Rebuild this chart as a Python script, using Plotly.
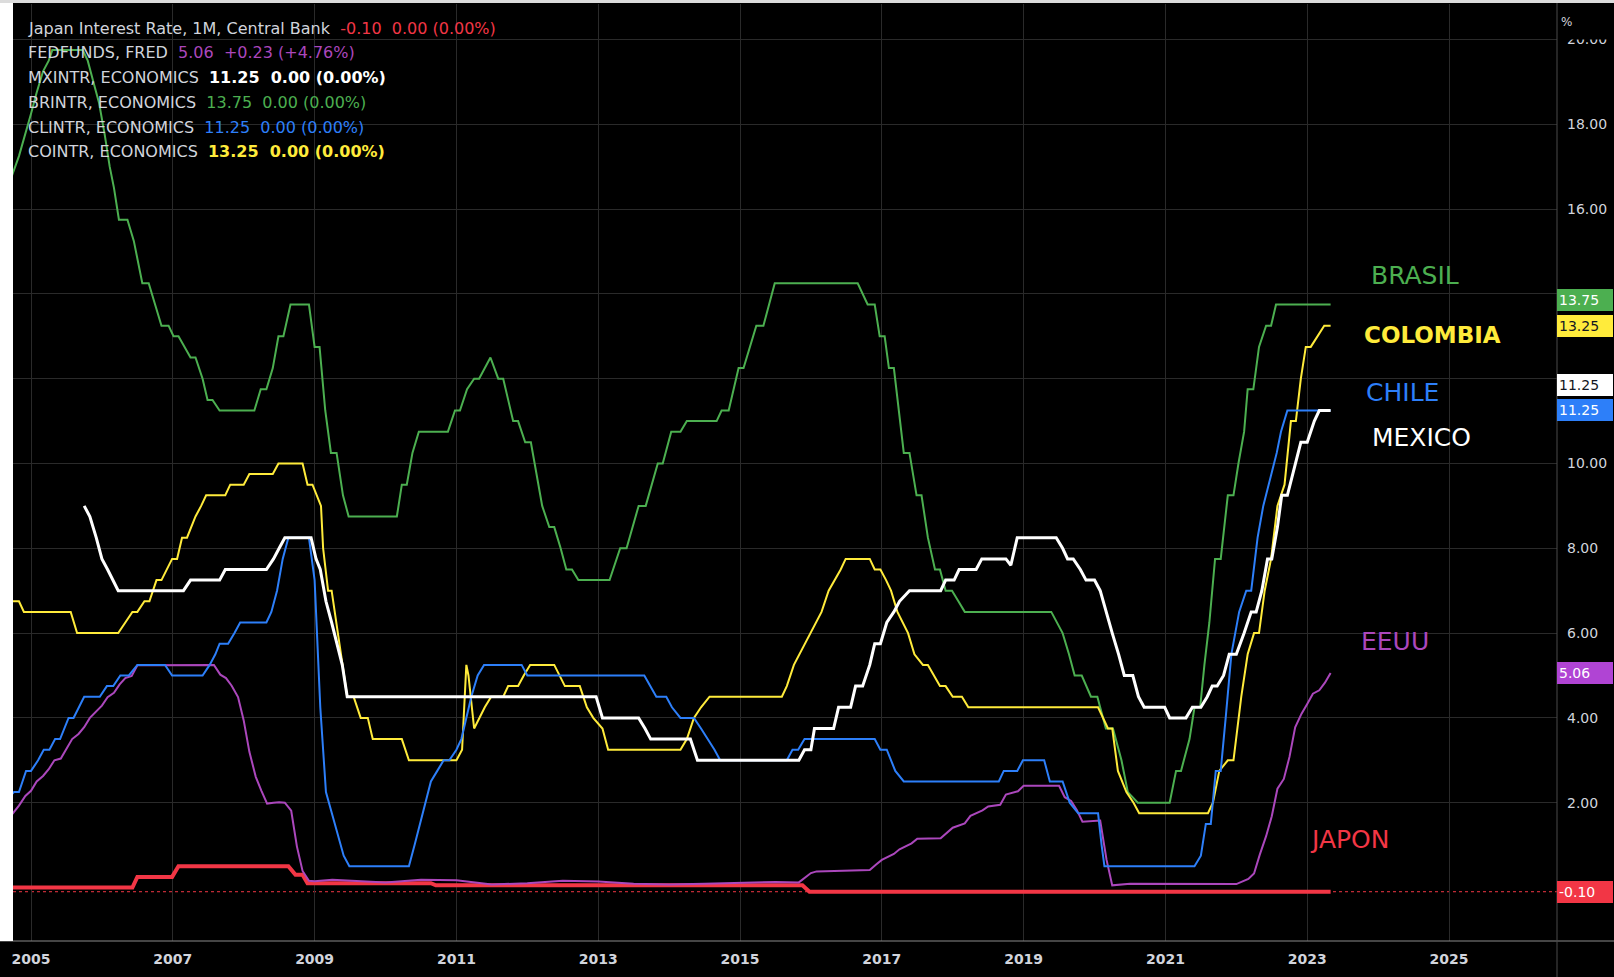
import plotly.graph_objects as go

# ---------------- data: (decimal year, rate %) ----------------
JAPAN = [(2004.60, 0.0), (2006.43, 0.0), (2006.50, 0.25), (2006.99, 0.25), (2007.08, 0.5),
         (2008.63, 0.5), (2008.73, 0.3), (2008.83, 0.3), (2008.90, 0.1), (2010.64, 0.1),
         (2010.71, 0.05), (2015.88, 0.05), (2015.98, -0.1), (2023.33, -0.1)]

FEDFUNDS = [(2004.60, 1.45), (2004.67, 1.61), (2004.75, 1.76), (2004.83, 1.93), (2004.92, 2.16),
            (2005.00, 2.28), (2005.08, 2.50), (2005.17, 2.63), (2005.25, 2.79), (2005.33, 3.00),
            (2005.42, 3.04), (2005.50, 3.26), (2005.58, 3.50), (2005.67, 3.62), (2005.75, 3.78),
            (2005.83, 4.00), (2005.92, 4.16), (2006.00, 4.29), (2006.08, 4.49), (2006.17, 4.59),
            (2006.25, 4.79), (2006.33, 4.94), (2006.42, 4.99), (2006.50, 5.24), (2007.58, 5.25),
            (2007.67, 5.02), (2007.75, 4.94), (2007.83, 4.76), (2007.92, 4.49), (2008.00, 3.94),
            (2008.08, 3.20), (2008.17, 2.61), (2008.25, 2.28), (2008.33, 1.98), (2008.42, 2.00),
            (2008.50, 2.01), (2008.58, 2.00), (2008.67, 1.81), (2008.75, 0.97), (2008.83, 0.39),
            (2008.92, 0.16), (2009.00, 0.15), (2009.25, 0.18), (2009.50, 0.16), (2010.00, 0.12),
            (2010.50, 0.18), (2011.00, 0.17), (2011.50, 0.07), (2012.00, 0.10), (2012.50, 0.16),
            (2013.00, 0.14), (2013.50, 0.09), (2014.00, 0.07), (2014.50, 0.09), (2015.00, 0.11),
            (2015.50, 0.13), (2015.83, 0.12), (2015.92, 0.24), (2016.00, 0.34), (2016.08, 0.38),
            (2016.50, 0.39), (2016.83, 0.41), (2016.92, 0.54), (2017.00, 0.65), (2017.17, 0.79),
            (2017.25, 0.90), (2017.42, 1.04), (2017.50, 1.15), (2017.83, 1.16), (2017.92, 1.30),
            (2018.00, 1.41), (2018.17, 1.51), (2018.25, 1.69), (2018.42, 1.82), (2018.50, 1.91),
            (2018.67, 1.95), (2018.75, 2.19), (2018.92, 2.27), (2019.00, 2.40), (2019.50, 2.40),
            (2019.58, 2.13), (2019.67, 2.04), (2019.75, 1.83), (2019.83, 1.55), (2020.08, 1.58),
            (2020.17, 0.65), (2020.25, 0.05), (2020.50, 0.09), (2021.00, 0.09), (2021.50, 0.08),
            (2022.00, 0.08), (2022.17, 0.20), (2022.25, 0.33), (2022.33, 0.77), (2022.42, 1.21),
            (2022.50, 1.68), (2022.58, 2.33), (2022.67, 2.56), (2022.75, 3.08), (2022.83, 3.78),
            (2022.92, 4.10), (2023.00, 4.33), (2023.08, 4.57), (2023.17, 4.65), (2023.25, 4.83),
            (2023.33, 5.06)]

BRASIL = [(2004.58, 16.25), (2004.67, 16.5), (2004.83, 17.25), (2004.92, 17.75), (2005.00, 18.25),
          (2005.08, 18.75), (2005.17, 19.25), (2005.25, 19.5), (2005.30, 19.75), (2005.73, 19.75),
          (2005.80, 19.5), (2005.88, 19.0), (2005.96, 18.5), (2006.04, 17.75), (2006.11, 17.0),
          (2006.17, 16.5), (2006.24, 15.75), (2006.36, 15.75), (2006.45, 15.25), (2006.57, 14.25),
          (2006.66, 14.25), (2006.75, 13.75), (2006.84, 13.25), (2006.94, 13.25), (2007.01, 13.0),
          (2007.08, 13.0), (2007.17, 12.75), (2007.25, 12.5), (2007.32, 12.5), (2007.42, 12.0),
          (2007.49, 11.5), (2007.56, 11.5), (2007.66, 11.25), (2008.15, 11.25), (2008.24, 11.75),
          (2008.32, 11.75), (2008.41, 12.25), (2008.49, 13.0), (2008.56, 13.0), (2008.66, 13.75),
          (2008.92, 13.75), (2009.00, 12.75), (2009.07, 12.75), (2009.15, 11.25), (2009.23, 10.25),
          (2009.31, 10.25), (2009.40, 9.25), (2009.48, 8.75), (2010.16, 8.75), (2010.23, 9.5),
          (2010.30, 9.5), (2010.38, 10.25), (2010.47, 10.75), (2010.88, 10.75), (2010.98, 11.25),
          (2011.05, 11.25), (2011.15, 11.75), (2011.25, 12.0), (2011.32, 12.0), (2011.40, 12.25),
          (2011.48, 12.5), (2011.59, 12.0), (2011.66, 12.0), (2011.73, 11.5), (2011.80, 11.0),
          (2011.87, 11.0), (2011.97, 10.5), (2012.05, 10.5), (2012.13, 9.75), (2012.21, 9.0),
          (2012.31, 8.5), (2012.38, 8.5), (2012.47, 8.0), (2012.55, 7.5), (2012.63, 7.5),
          (2012.72, 7.25), (2013.16, 7.25), (2013.26, 7.75), (2013.31, 8.0), (2013.40, 8.0),
          (2013.49, 8.5), (2013.57, 9.0), (2013.67, 9.0), (2013.76, 9.5), (2013.84, 10.0),
          (2013.91, 10.0), (2014.03, 10.75), (2014.16, 10.75), (2014.25, 11.0), (2014.67, 11.0),
          (2014.74, 11.25), (2014.84, 11.25), (2014.91, 11.75), (2014.98, 12.25), (2015.05, 12.25),
          (2015.14, 12.75), (2015.23, 13.25), (2015.33, 13.25), (2015.41, 13.75), (2015.49, 14.25),
          (2016.66, 14.25), (2016.73, 14.0), (2016.80, 13.75), (2016.90, 13.75), (2016.97, 13.0),
          (2017.04, 13.0), (2017.10, 12.25), (2017.17, 12.25), (2017.24, 11.25), (2017.31, 10.25),
          (2017.39, 10.25), (2017.49, 9.25), (2017.56, 9.25), (2017.65, 8.25), (2017.75, 7.5),
          (2017.82, 7.5), (2017.90, 7.0), (2017.99, 7.0), (2018.08, 6.75), (2018.17, 6.5),
          (2019.39, 6.5), (2019.55, 6.0), (2019.64, 5.5), (2019.72, 5.0), (2019.82, 5.0),
          (2019.95, 4.5), (2020.04, 4.5), (2020.16, 3.75), (2020.26, 3.75), (2020.38, 3.0),
          (2020.47, 2.25), (2020.61, 2.0), (2021.06, 2.0), (2021.15, 2.75), (2021.22, 2.75),
          (2021.34, 3.5), (2021.41, 4.25), (2021.49, 4.25), (2021.55, 5.25), (2021.62, 6.25),
          (2021.70, 7.75), (2021.78, 7.75), (2021.88, 9.25), (2021.96, 9.25), (2022.03, 10.0),
          (2022.11, 10.75), (2022.16, 11.75), (2022.24, 11.75), (2022.32, 12.75), (2022.42, 13.25),
          (2022.49, 13.25), (2022.56, 13.75), (2023.33, 13.75)]

COLOMBIA = [(2004.60, 6.75), (2004.83, 6.75), (2004.90, 6.5), (2005.56, 6.5), (2005.65, 6.0),
            (2006.23, 6.0), (2006.33, 6.25), (2006.43, 6.5), (2006.50, 6.5), (2006.60, 6.75),
            (2006.67, 6.75), (2006.77, 7.25), (2006.84, 7.25), (2006.92, 7.5), (2006.99, 7.75),
            (2007.06, 7.75), (2007.13, 8.25), (2007.20, 8.25), (2007.32, 8.75), (2007.40, 9.0),
            (2007.47, 9.25), (2007.74, 9.25), (2007.81, 9.5), (2008.00, 9.5), (2008.08, 9.75),
            (2008.41, 9.75), (2008.49, 10.0), (2008.83, 10.0), (2008.90, 9.5), (2008.97, 9.5),
            (2009.09, 9.0), (2009.12, 8.0), (2009.19, 7.0), (2009.24, 7.0), (2009.33, 6.0),
            (2009.41, 5.0), (2009.46, 4.5), (2009.55, 4.5), (2009.65, 4.0), (2009.75, 4.0),
            (2009.82, 3.5), (2010.23, 3.5), (2010.33, 3.0), (2011.00, 3.0), (2011.08, 3.25),
            (2011.14, 5.25), (2011.17, 5.0), (2011.25, 3.75), (2011.32, 4.0), (2011.40, 4.25),
            (2011.49, 4.5), (2011.66, 4.5), (2011.73, 4.75), (2011.87, 4.75), (2011.95, 5.0),
            (2012.04, 5.25), (2012.38, 5.25), (2012.53, 4.75), (2012.74, 4.75), (2012.84, 4.25),
            (2012.93, 4.0), (2013.06, 3.75), (2013.14, 3.25), (2014.16, 3.25), (2014.25, 3.5),
            (2014.35, 4.0), (2014.45, 4.25), (2014.57, 4.5), (2015.59, 4.5), (2015.66, 4.75),
            (2015.76, 5.25), (2015.84, 5.5), (2015.92, 5.75), (2016.00, 6.0), (2016.07, 6.25),
            (2016.15, 6.5), (2016.25, 7.0), (2016.34, 7.25), (2016.42, 7.5), (2016.49, 7.75),
            (2016.83, 7.75), (2016.90, 7.5), (2016.98, 7.5), (2017.06, 7.25), (2017.13, 7.0),
            (2017.22, 6.5), (2017.30, 6.25), (2017.37, 6.0), (2017.46, 5.5), (2017.58, 5.25),
            (2017.65, 5.25), (2017.73, 5.0), (2017.82, 4.75), (2017.90, 4.75), (2018.00, 4.5),
            (2018.13, 4.5), (2018.22, 4.25), (2020.05, 4.25), (2020.19, 3.75), (2020.25, 3.75),
            (2020.33, 2.75), (2020.45, 2.25), (2020.55, 2.0), (2020.63, 1.75), (2021.60, 1.75),
            (2021.67, 2.0), (2021.76, 2.75), (2021.88, 3.0), (2021.96, 3.0), (2022.07, 4.5),
            (2022.16, 5.5), (2022.25, 6.0), (2022.32, 6.0), (2022.40, 7.0), (2022.49, 7.75),
            (2022.58, 9.0), (2022.68, 9.5), (2022.77, 11.0), (2022.84, 11.0), (2022.91, 12.0),
            (2022.98, 12.75), (2023.05, 12.75), (2023.15, 13.0), (2023.24, 13.25), (2023.33, 13.25)]

CHILE = [(2004.60, 2.0), (2004.76, 2.25), (2004.83, 2.25), (2004.93, 2.75), (2005.00, 2.75),
         (2005.10, 3.0), (2005.18, 3.25), (2005.26, 3.25), (2005.34, 3.5), (2005.41, 3.5),
         (2005.53, 4.0), (2005.60, 4.0), (2005.75, 4.5), (2005.97, 4.5), (2006.07, 4.75),
         (2006.16, 4.75), (2006.26, 5.0), (2006.38, 5.0), (2006.50, 5.25), (2006.89, 5.25),
         (2006.99, 5.0), (2007.42, 5.0), (2007.52, 5.25), (2007.60, 5.5), (2007.66, 5.75),
         (2007.78, 5.75), (2007.87, 6.0), (2007.95, 6.25), (2008.32, 6.25), (2008.39, 6.5),
         (2008.47, 7.0), (2008.55, 7.75), (2008.63, 8.25), (2008.92, 8.25), (2009.00, 7.25),
         (2009.08, 4.25), (2009.16, 2.25), (2009.24, 1.75), (2009.33, 1.25), (2009.41, 0.75),
         (2009.49, 0.5), (2010.33, 0.5), (2010.41, 1.0), (2010.49, 1.5), (2010.57, 2.0),
         (2010.64, 2.5), (2010.73, 2.75), (2010.82, 3.0), (2010.90, 3.0), (2011.00, 3.25),
         (2011.07, 3.5), (2011.14, 4.0), (2011.21, 4.5), (2011.30, 5.0), (2011.39, 5.25),
         (2011.92, 5.25), (2012.00, 5.0), (2013.65, 5.0), (2013.74, 4.75), (2013.82, 4.5),
         (2013.96, 4.5), (2014.04, 4.25), (2014.16, 4.0), (2014.35, 4.0), (2014.45, 3.75),
         (2014.55, 3.5), (2014.64, 3.25), (2014.72, 3.0), (2015.66, 3.0), (2015.74, 3.25),
         (2015.82, 3.25), (2015.91, 3.5), (2016.90, 3.5), (2016.98, 3.25), (2017.07, 3.25),
         (2017.19, 2.75), (2017.31, 2.5), (2018.65, 2.5), (2018.72, 2.75), (2018.91, 2.75),
         (2018.99, 3.0), (2019.29, 3.0), (2019.37, 2.5), (2019.55, 2.5), (2019.65, 2.0),
         (2019.77, 1.75), (2020.05, 1.75), (2020.10, 1.0), (2020.14, 0.5), (2021.41, 0.5),
         (2021.50, 0.75), (2021.57, 1.5), (2021.64, 1.5), (2021.71, 2.75), (2021.78, 2.75),
         (2021.85, 4.0), (2021.93, 5.5), (2022.04, 6.5), (2022.14, 7.0), (2022.21, 7.0),
         (2022.30, 8.25), (2022.38, 9.0), (2022.49, 9.75), (2022.57, 10.25), (2022.63, 10.75),
         (2022.72, 11.25), (2023.33, 11.25)]

MEXICO = [(2005.75, 9.0), (2005.83, 8.75), (2005.92, 8.25), (2006.00, 7.75), (2006.08, 7.5),
          (2006.16, 7.25), (2006.23, 7.0), (2007.15, 7.0), (2007.25, 7.25), (2007.66, 7.25),
          (2007.74, 7.5), (2008.32, 7.5), (2008.42, 7.75), (2008.50, 8.0), (2008.58, 8.25),
          (2008.95, 8.25), (2009.02, 7.75), (2009.08, 7.5), (2009.16, 6.75), (2009.24, 6.25),
          (2009.32, 5.75), (2009.39, 5.25), (2009.46, 4.5), (2012.97, 4.5), (2013.06, 4.0),
          (2013.57, 4.0), (2013.66, 3.75), (2013.74, 3.5), (2014.30, 3.5), (2014.40, 3.0),
          (2015.83, 3.0), (2015.91, 3.25), (2016.00, 3.25), (2016.05, 3.75), (2016.32, 3.75),
          (2016.39, 4.25), (2016.56, 4.25), (2016.63, 4.75), (2016.73, 4.75), (2016.83, 5.25),
          (2016.90, 5.75), (2016.98, 5.75), (2017.07, 6.25), (2017.17, 6.5), (2017.25, 6.75),
          (2017.39, 7.0), (2017.83, 7.0), (2017.90, 7.25), (2018.02, 7.25), (2018.09, 7.5),
          (2018.33, 7.5), (2018.41, 7.75), (2018.75, 7.75), (2018.82, 7.6), (2018.91, 8.25),
          (2019.46, 8.25), (2019.55, 8.0), (2019.62, 7.75), (2019.70, 7.75), (2019.80, 7.5),
          (2019.88, 7.25), (2020.00, 7.25), (2020.08, 7.0), (2020.16, 6.5), (2020.25, 6.0),
          (2020.34, 5.5), (2020.42, 5.0), (2020.54, 5.0), (2020.62, 4.5), (2020.70, 4.25),
          (2020.99, 4.25), (2021.06, 4.0), (2021.29, 4.0), (2021.38, 4.25), (2021.50, 4.25),
          (2021.59, 4.5), (2021.66, 4.75), (2021.73, 4.75), (2021.82, 5.0), (2021.90, 5.5),
          (2022.00, 5.5), (2022.11, 6.0), (2022.21, 6.5), (2022.28, 6.5), (2022.36, 7.0),
          (2022.44, 7.75), (2022.50, 7.75), (2022.58, 8.5), (2022.64, 9.25), (2022.72, 9.25),
          (2022.84, 10.0), (2022.91, 10.5), (2023.00, 10.5), (2023.10, 11.0), (2023.17, 11.25),
          (2023.33, 11.25)]

YEAR_TICKS = [2005, 2007, 2009, 2011, 2013, 2015, 2017, 2019, 2021, 2023, 2025]
RATE_TICKS = [2, 4, 6, 8, 10, 12, 14, 16, 18, 20]

LEGEND_ROWS = [
    ("Japan Interest Rate, 1M, Central Bank", "-0.10\u00a0\u00a00.00 (0.00%)", "#f23645", False),
    ("FEDFUNDS, FRED", "5.06\u00a0\u00a0+0.23 (+4.76%)", "#ab47bc", False),
    ("MXINTR, ECONOMICS", "11.25\u00a0\u00a00.00 (0.00%)", "#ffffff", True),
    ("BRINTR, ECONOMICS", "13.75\u00a0\u00a00.00 (0.00%)", "#4caf50", False),
    ("CLINTR, ECONOMICS", "11.25\u00a0\u00a00.00 (0.00%)", "#2d7ff9", False),
    ("COINTR, ECONOMICS", "13.25\u00a0\u00a00.00 (0.00%)", "#ffeb3b", True),
]

# ---------------- styling ----------------
W, H = 1614, 977
ML, MR, MT, MB = 13, 57, 4, 36
PW, PH = W - ML - MR, H - MT - MB
X_RANGE = [2004.746, 2026.523]
Y_RANGE = [-1.262, 20.837]
FONT = "DejaVu Sans"
TXT = "#d1d4dc"

C_RED, C_PUR, C_WHT, C_GRN, C_BLU, C_YEL = "#f23645", "#ab47bc", "#ffffff", "#4caf50", "#2d7ff9", "#ffeb3b"


def px(x, y):
    """pixel in the page -> paper coordinates"""
    return (x - ML) / PW, (H - MB - y) / PH


fig = go.Figure()
series = [
    ("Japan", JAPAN, C_RED, 4),
    ("FEDFUNDS", FEDFUNDS, C_PUR, 2),
    ("Brasil", BRASIL, C_GRN, 2),
    ("Colombia", COLOMBIA, C_YEL, 2),
    ("Chile", CHILE, C_BLU, 2),
    ("Mexico", MEXICO, C_WHT, 3),
]
for name, pts, col, w in series:
    fig.add_trace(go.Scatter(x=[p[0] for p in pts], y=[p[1] for p in pts], mode="lines",
                             name=name, line=dict(color=col, width=w), hoverinfo="skip",
                             showlegend=False))

shapes = []
shapes.append(dict(type="line", xref="paper", yref="y", x0=0, x1=1, y0=-0.1, y1=-0.1,
                   line=dict(color=C_RED, width=1, dash="dot"), layer="below"))
x0p, _ = px(0, 0)
x1p, _ = px(W, 0)
_, ytop = px(0, 0)
_, ybot = px(0, H)
shapes.append(dict(type="line", xref="paper", yref="paper", x0=x0p, x1=x1p, y0=0, y1=0,
                   line=dict(color="#8a8a8a", width=1)))
shapes.append(dict(type="line", xref="paper", yref="paper", x0=1, x1=1, y0=ybot, y1=ytop,
                   line=dict(color="#4a4a4a", width=1)))
shapes.append(dict(type="rect", xref="paper", yref="paper", x0=x0p, x1=0, y0=0, y1=ytop,
                   fillcolor="#ffffff", line=dict(width=0)))
_, y3 = px(0, 3)
shapes.append(dict(type="rect", xref="paper", yref="paper", x0=x0p, x1=x1p, y0=y3, y1=ytop,
                   fillcolor="#dcdcdc", line=dict(width=0)))

ann = []
for i, (name, vals, col, bold) in enumerate(LEGEND_ROWS):
    xp, yp = px(26, 28 + 24.8 * i)
    v = f"<b>{vals}</b>" if bold else vals
    ann.append(dict(xref="paper", yref="paper", x=xp, y=yp, xanchor="left", yanchor="middle",
                    showarrow=False, text=f"{name}\u00a0\u00a0<span style='color:{col}'>{v}</span>",
                    font=dict(family=FONT, size=16, color=TXT)))

labels = [("BRASIL", 1415, 275, C_GRN, False), ("COLOMBIA", 1432, 335, C_YEL, True),
          ("CHILE", 1402, 393, C_BLU, False), ("MEXICO", 1421, 437, C_WHT, False),
          ("EEUU", 1395, 641, C_PUR, False), ("JAPON", 1350, 839, C_RED, False)]
for t, lx, ly, col, bold in labels:
    xp, yp = px(lx, ly)
    ann.append(dict(xref="paper", yref="paper", x=xp, y=yp, xanchor="center", yanchor="middle",
                    showarrow=False, text=f"<b>{t}</b>" if bold else t,
                    font=dict(family=FONT, size=23 if bold else 25, color=col)))

# unit label hiding the upper half of the top tick label
xp, yp = px(1557, 22)
ann.append(dict(xref="paper", yref="paper", x=1, y=yp, xanchor="left", yanchor="middle",
                showarrow=False, text="%", bgcolor="#000000", width=54, height=32, align="left",
                xshift=2, font=dict(family=FONT, size=12, color=TXT)))

boxes = [("13.75", 13.75, 4, C_GRN, "#ffffff"), ("13.25", 13.25, 0, C_YEL, "#131722"),
         ("11.25", 11.25, 25, C_WHT, "#131722"), ("11.25", 11.25, 0, C_BLU, "#ffffff"),
         ("5.06", 5.06, 0, "#b044d4", "#ffffff"), ("-0.10", -0.10, 0, C_RED, "#ffffff")]
for t, v, ys, bg, fc in boxes:
    ann.append(dict(xref="paper", yref="y", x=1, y=v, xanchor="left", yanchor="middle",
                    yshift=ys, showarrow=False, text=t, bgcolor=bg, bordercolor=bg,
                    width=52, height=18, align="left", borderpad=1,
                    font=dict(family=FONT, size=14, color=fc)))

fig.update_layout(
    width=W, height=H, margin=dict(l=ML, r=MR, t=MT, b=MB),
    paper_bgcolor="#000000", plot_bgcolor="#000000",
    shapes=shapes, annotations=ann, showlegend=False,
    xaxis=dict(range=X_RANGE, tickvals=YEAR_TICKS, ticktext=[str(y) for y in YEAR_TICKS],
               showgrid=True, gridcolor="#2a2a2a", gridwidth=1, zeroline=False, showline=False,
               ticks="", ticklabelstandoff=8,
               tickfont=dict(family=FONT, size=14, color=TXT, weight="bold")),
    yaxis=dict(range=Y_RANGE, side="right", tickvals=RATE_TICKS,
               ticktext=[f"{v:.2f}" for v in RATE_TICKS],
               showgrid=True, gridcolor="#2a2a2a", gridwidth=1, zeroline=False, showline=False,
               ticks="", ticklabelstandoff=9,
               tickfont=dict(family=FONT, size=14, color=TXT)),
)

fig.write_html("out.html", config={"displayModeBar": False},
               post_script="document.body.style.margin='0px';document.body.style.overflow='hidden';")
